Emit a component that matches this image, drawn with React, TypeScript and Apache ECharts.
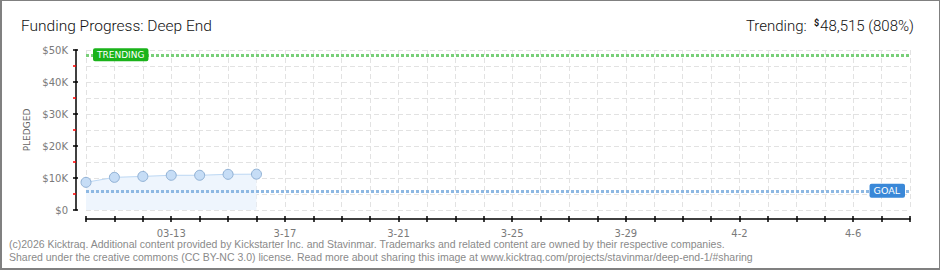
import React, { useEffect, useRef } from "react";
import * as echarts from "echarts";

const TITLE = "Funding Progress: Deep End";
const TRENDING_AMOUNT = "48,515";
const TRENDING_PCT = "(808%)";
const TRENDING_VALUE = 48515;
const GOAL_VALUE = 6000;

const dates = [
  "3-10", "3-11", "3-12", "03-13", "3-14", "3-15", "3-16", "3-17", "3-18", "3-19",
  "3-20", "3-21", "3-22", "3-23", "3-24", "3-25", "3-26", "3-27", "3-28", "3-29",
  "3-30", "3-31", "4-1", "4-2", "4-3", "4-4", "4-5", "4-6", "4-7", "4-8",
];
const shownLabels = ["03-13", "3-17", "3-21", "3-25", "3-29", "4-2", "4-6"];
const pledged = [8650, 10200, 10500, 10850, 10850, 11150, 11200];
const yTicks = { min: 0, max: 50000, interval: 10000 };

const FOOTER1 =
  "(c)2026 Kicktraq. Additional content provided by Kickstarter Inc. and Stavinmar. Trademarks and related content are owned by their respective companies.";
const FOOTER2 =
  "Shared under the creative commons (CC BY-NC 3.0) license. Read more about sharing this image at www.kicktraq.com/projects/stavinmar/deep-end-1/#sharing";

export default function App() {
  const ref = useRef<HTMLDivElement>(null);
  useEffect(() => {
    if (!ref.current) return;
    const chart = echarts.init(ref.current, null, { renderer: "svg" });
    const dash = { type: [5, 3], color: "#e2e2e2", width: 1 };
    const labelFont = { fontFamily: "DejaVu Sans", fontSize: 10, color: "#7a7a7a" };
    chart.setOption({
      animation: false,
      backgroundColor: "#ffffff",
      title: [
        {
          text: TITLE,
          left: 16,
          top: 13,
          textStyle: { fontFamily: "Roboto", fontWeight: 300, fontSize: 15.5, color: "#111" },
        },
        {
          text: `{a|Trending:  }{s|$}{a|${TRENDING_AMOUNT} ${TRENDING_PCT}}`,
          right: 21,
          top: 13,
          textStyle: {
            rich: {
              a: { fontFamily: "Roboto", fontWeight: 300, fontSize: 15, color: "#111" },
              s: { fontFamily: "Roboto", fontSize: 9, color: "#111", verticalAlign: "top", padding: [0, 1, 7, 0] },
            },
          },
        },
      ],
      grid: { left: 86, right: 30, top: 50, bottom: 60 },
      xAxis: [
        {
          type: "category",
          data: dates,
          boundaryGap: false,
          offset: 9,
          axisLine: { onZero: false, lineStyle: { color: "#000", width: 1.5 } },
          axisTick: { show: true, length: 3, interval: 0, lineStyle: { color: "#000", width: 1.5 } },
          axisLabel: {
            ...labelFont,
            margin: 9,
            interval: (i: number, v: string) => shownLabels.includes(v),
          },
          splitLine: { show: true, interval: 0, lineStyle: dash },
        },
        {
          type: "category",
          data: dates,
          boundaryGap: false,
          position: "bottom",
          offset: 9,
          axisLine: { show: false, onZero: false },
          axisTick: { show: true, inside: true, length: 3, interval: 0, lineStyle: { color: "#000", width: 1.5 } },
          axisLabel: { show: false },
          splitLine: { show: false },
        },
      ],
      yAxis: [
        {
          type: "value",
          ...yTicks,
          offset: 10,
          name: "PLEDGED",
          nameLocation: "middle",
          nameRotate: 90,
          nameGap: 41,
          nameTextStyle: { fontFamily: "DejaVu Sans", fontSize: 9, color: "#666" },
          axisLine: { show: true, onZero: false, lineStyle: { color: "#000", width: 1.5 } },
          axisTick: { show: true, length: 3, lineStyle: { color: "#000", width: 1.5 } },
          minorTick: { show: true, splitNumber: 2, length: 3, lineStyle: { color: "#ff0000", width: 1.5 } },
          axisLabel: {
            ...labelFont,
            margin: 8,
            formatter: (v: number) => (v === 0 ? "$0" : `$${v / 1000}K`),
          },
          splitLine: { show: true, lineStyle: dash },
          minorSplitLine: { show: true, lineStyle: dash },
        },
        {
          type: "value",
          ...yTicks,
          position: "left",
          offset: 10,
          axisLine: { show: false, onZero: false },
          axisTick: { show: true, inside: true, length: 2, lineStyle: { color: "#000", width: 1.5 } },
          axisLabel: { show: false },
          splitLine: { show: false },
        },
      ],
      graphic: [
        {
          type: "text",
          left: 9,
          top: 238,
          style: { text: FOOTER1, fontFamily: "Liberation Sans", fontSize: 10.5, fill: "#8a8a8a" },
        },
        {
          type: "text",
          left: 9,
          top: 251,
          style: { text: FOOTER2, fontFamily: "Liberation Sans", fontSize: 10.5, fill: "#8a8a8a" },
        },
      ],
      series: [
        {
          type: "line",
          data: pledged,
          xAxisIndex: 0,
          yAxisIndex: 0,
          symbol: "circle",
          symbolSize: 10,
          showAllSymbol: true,
          lineStyle: { color: "#bcd7f3", width: 1 },
          itemStyle: { color: "#c6ddf6", borderColor: "#8fb0d4", borderWidth: 1 },
          areaStyle: { color: "#eef5fd", opacity: 1 },
          emphasis: { disabled: true },
          markLine: {
            silent: true,
            symbol: ["none", "none"],
            animation: false,
            data: [
              {
                yAxis: GOAL_VALUE,
                lineStyle: { color: "#8db8e3", width: 3, type: [3, 2] },
                label: {
                  show: true,
                  formatter: "GOAL",
                  position: "insideEnd",
                  distance: [5, 0],
                  backgroundColor: "#3a88d8",
                  color: "#fff",
                  fontFamily: "DejaVu Sans",
                  fontSize: 9.5,
                  padding: [2, 5, 2, 4],
                  borderRadius: 2,
                },
              },
              {
                yAxis: TRENDING_VALUE,
                lineStyle: { color: "#79cf79", width: 3, type: [3, 2] },
                label: {
                  show: true,
                  formatter: "TRENDING",
                  position: "insideStart",
                  distance: [7, 0],
                  backgroundColor: "#1ab31a",
                  color: "#fff",
                  fontFamily: "DejaVu Sans",
                  fontSize: 9,
                  padding: [2, 4, 2, 4],
                  borderRadius: 2,
                },
              },
            ],
          },
        },
      ],
    });
    return () => chart.dispose();
  }, []);
  return (
    <div style={{ position: "fixed", left: 0, top: 0, width: 940, height: 270, background: "#fff" }}>
      <div ref={ref} style={{ position: "absolute", left: 0, top: 0, width: 940, height: 270 }} />
      <div
        style={{
          position: "absolute",
          left: 0,
          top: 0,
          width: 940,
          height: 270,
          boxSizing: "border-box",
          borderStyle: "solid",
          borderColor: "#808080",
          borderWidth: "1px 1px 2px 2px",
          pointerEvents: "none",
        }}
      />
    </div>
  );
}
